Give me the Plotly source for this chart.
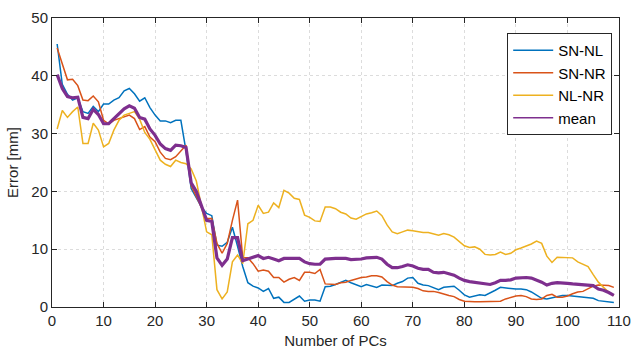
import plotly.graph_objects as go

pcs = list(range(1, 110))

sn_nl = [45.5, 38.5, 36.8, 35.8, 36.2, 33.8, 33.5, 34.7, 33.8, 35.1,
         35.1, 35.8, 36.2, 37.4, 37.8, 36.9, 35.6, 36.2, 34.5, 33.2,
         32.2, 32.2, 31.9, 32.3, 32.3, 27.0, 20.5, 18.8, 17.3, 16.2,
         15.8, 10.7, 10.5, 11.2, 13.8, 10.5, 7.0, 4.2, 3.6, 3.3,
         2.7, 3.2, 1.5, 1.7, 0.8, 0.8, 1.3, 1.9, 1.0, 1.2,
         1.2, 1.0, 3.5, 3.6, 3.9, 4.2, 4.6, 4.2, 3.9, 3.5,
         3.9, 3.6, 3.4, 3.8, 3.8, 3.7, 4.1, 4.4, 5.0, 5.1,
         4.1, 3.8, 3.7, 3.4, 3.0, 3.4, 3.5, 3.6, 2.9, 2.1,
         1.7, 1.9, 2.1, 2.0, 2.4, 2.9, 3.4, 3.3, 3.1, 3.1,
         3.1, 3.0, 2.6, 2.0, 1.5, 1.4, 1.6, 1.9, 2.0, 2.0,
         1.9, 1.8, 1.7, 1.6, 1.5, 1.1, 1.0, 0.95, 0.8]

sn_nr = [44.8, 42.0, 39.3, 39.4, 38.3, 35.8, 35.7, 36.5, 35.5, 32.3,
         31.7, 32.3, 32.6, 32.9, 33.2, 32.6, 30.7, 31.2, 29.4, 28.6,
         26.8, 25.7, 25.5, 26.0, 27.0, 28.0, 21.0, 19.0, 17.0, 15.3,
         15.3, 11.0, 9.3, 11.0, 15.0, 18.5, 8.5, 8.5, 7.5, 6.2,
         6.4, 6.2, 5.1, 5.1, 4.3, 4.8, 5.1, 4.6, 6.0, 6.0,
         5.8, 6.5, 4.0, 3.9, 3.9, 4.2, 4.3, 4.6, 4.9, 5.1,
         5.2, 5.4, 5.4, 5.2, 4.4, 3.8, 3.5, 3.5, 3.4, 3.4,
         3.2, 2.8, 2.7, 2.7, 2.5, 2.2, 2.0, 1.8, 1.3, 1.0,
         0.9, 0.9, 0.9, 0.9, 0.9, 0.9, 1.0, 1.4, 1.7, 1.9,
         2.0, 1.8, 1.4, 1.3, 1.4, 2.0, 2.2, 1.7, 1.7, 1.9,
         2.3, 2.6, 2.7, 3.1, 3.6, 3.8, 3.8, 3.7, 3.4]

nl_nr = [30.8, 34.0, 32.8, 33.8, 34.6, 28.3, 28.3, 31.8, 30.6, 27.7,
         28.3, 30.6, 32.3, 33.2, 33.5, 33.8, 32.5, 30.2, 29.0, 27.3,
         25.4, 24.7, 24.3, 25.4, 25.0, 24.8, 23.9, 21.8, 17.3, 13.0,
         12.5, 3.0, 1.4, 2.6, 7.8, 9.0, 7.5, 14.4, 15.0, 17.6,
         16.2, 16.4, 18.0, 17.2, 20.2, 19.7, 18.8, 18.6, 15.9, 15.5,
         14.9, 14.8, 17.3, 17.3, 17.0, 16.4, 16.1, 15.4, 15.2, 15.7,
         16.1, 16.3, 16.6, 15.8, 14.2, 13.0, 12.7, 13.0, 13.3, 13.2,
         13.0, 12.9, 12.9, 12.6, 12.4, 12.7, 12.5, 12.1, 11.4, 10.6,
         10.3, 10.4, 10.0, 9.1, 9.0, 9.1, 9.5, 9.1, 9.3, 9.9,
         10.2, 10.5, 10.9, 11.4, 11.0, 8.8, 7.7, 8.6, 8.6, 8.5,
         8.5, 7.8, 7.4, 7.0, 5.6, 4.3, 3.4, 2.6, 2.0]

mean = [40.2, 37.8, 36.4, 36.2, 36.3, 32.8, 32.6, 34.2, 33.3, 31.7,
        31.7, 32.6, 33.5, 34.3, 34.8, 34.4, 32.8, 32.5, 30.8, 29.7,
        28.2, 27.4, 27.1, 28.0, 27.9, 27.6, 21.5, 20.0, 17.5, 15.0,
        14.8, 8.5, 7.2, 8.3, 12.0, 12.0, 8.0, 8.3, 8.7, 8.9,
        8.4, 8.6, 8.3, 8.0, 8.4, 8.4, 8.4, 8.4, 7.8, 7.5,
        7.4, 7.4, 8.3, 8.4, 8.4, 8.4, 8.4, 8.2, 8.2, 8.3,
        8.5, 8.6, 8.6, 8.3, 7.4, 6.8, 6.8, 7.0, 7.3, 7.1,
        6.7, 6.5, 6.5, 6.0, 5.9, 6.0, 5.8, 5.5, 5.0, 4.6,
        4.4, 4.3, 4.2, 4.1, 3.9, 4.2, 4.6, 4.6, 4.7, 5.0,
        5.1, 5.1, 5.0, 4.7, 4.3, 3.8, 4.1, 4.2, 4.2, 4.1,
        4.0, 3.9, 3.9, 3.8, 3.7, 3.1, 2.9, 2.5, 2.0]

series_names = ["SN-NL", "SN-NR", "NL-NR", "mean"]
colors = ["#0072BD", "#D95319", "#EDB120", "#7E2F8E"]
widths = [1.5, 1.5, 1.5, 3.2]
x_ticks = list(range(0, 111, 10))
y_ticks = list(range(0, 51, 10))

fig = go.Figure()
for name, ys, c, w in zip(series_names, [sn_nl, sn_nr, nl_nr, mean], colors, widths):
    fig.add_trace(go.Scatter(x=pcs, y=ys, mode="lines", name=name,
                             line=dict(color=c, width=w), showlegend=False))
# legend entries (thin sample lines, as in the reference legend)
for name, c in zip(series_names, colors):
    fig.add_trace(go.Scatter(x=[None], y=[None], mode="lines", name=name,
                             line=dict(color=c, width=1.5), showlegend=True))

axis_common = dict(
    showline=True, linecolor="#262626", linewidth=1, mirror="ticks",
    ticks="inside", ticklen=5, tickcolor="#262626", tickwidth=1,
    showgrid=True, gridcolor="#dcdcdc", griddash="dot", gridwidth=1,
    zeroline=False, tickfont=dict(size=15, color="#262626"),
    automargin=False,
)

fig.update_layout(
    width=631, height=354,
    margin=dict(l=52, r=12, t=18, b=47),
    paper_bgcolor="white", plot_bgcolor="white",
    font=dict(family="Liberation Sans, Arial", size=15, color="#262626"),
    xaxis=dict(range=[0, 110], tickvals=x_ticks,
               title=dict(text="Number of PCs", font=dict(size=15), standoff=7),
               **axis_common),
    yaxis=dict(range=[0, 50], tickvals=y_ticks,
               title=dict(text="Error [mm]", font=dict(size=15), standoff=9),
               **axis_common),
    legend=dict(x=0.988, y=0.948, xanchor="right", yanchor="top",
                bgcolor="white", bordercolor="#262626", borderwidth=1,
                font=dict(size=15, color="#000000"), tracegroupgap=2,
                itemwidth=40),
    showlegend=True,
)

fig.write_html("out.html",
               config={"displayModeBar": False},
               post_script="document.body.style.margin='0';"
                           "document.body.style.overflow='hidden';")
